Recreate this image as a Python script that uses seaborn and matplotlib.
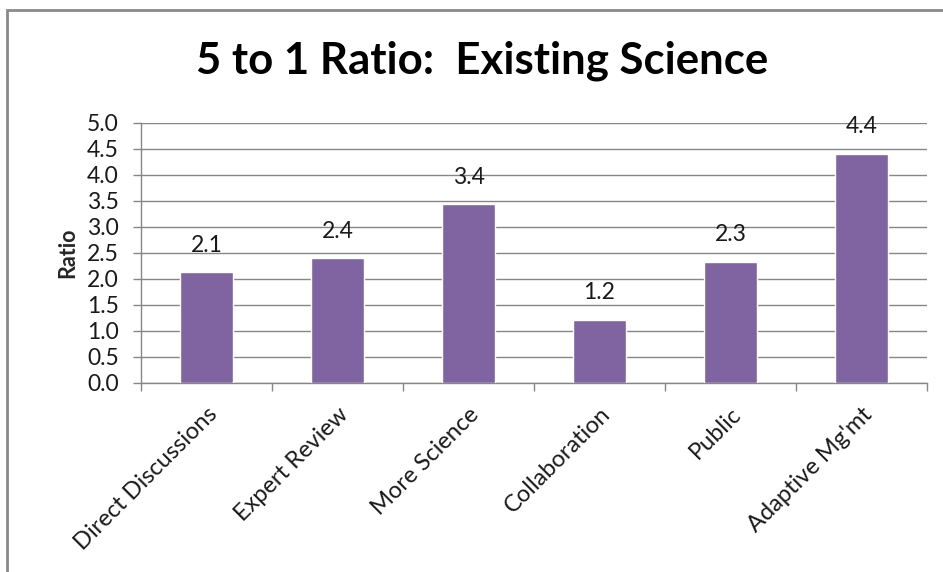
import matplotlib
matplotlib.use("Agg")
import matplotlib.pyplot as plt
import matplotlib.patches as mpatches
from matplotlib.ticker import FixedLocator, NullFormatter
import seaborn as sns
import pandas as pd

categories = ["Direct Discussions", "Expert Review", "More Science",
              "Collaboration", "Public", "Adaptive Mg'mt"]
ratios = [2.12, 2.39, 3.43, 1.21, 2.32, 4.40]
y_ticks = [0.0, 0.5, 1.0, 1.5, 2.0, 2.5, 3.0, 3.5, 4.0, 4.5, 5.0]

title_text = "5 to 1 Ratio:  Existing Science"
y_label = "Ratio"

bar_color = "#8064A2"
grid_color = "#868686"
text_color = "#1a1a1a"
font_family = ["Lato", "DejaVu Sans"]

sns.set_theme(style="white")
plt.rcParams["font.family"] = font_family

df = pd.DataFrame({"category": categories, "ratio": ratios})

fig = plt.figure(figsize=(9.43, 5.72), dpi=100)
ax = fig.add_axes([0.1495, 0.331, 0.8335, 0.4545])

sns.barplot(data=df, x="category", y="ratio", color=bar_color,
            saturation=1, width=0.4, ax=ax, zorder=3)

ax.set_ylim(0, 5.0)
ax.set_xlim(-0.5, len(categories) - 0.5)
ax.yaxis.set_major_locator(FixedLocator(y_ticks))
ax.set_yticklabels([f"{v:.1f}" for v in y_ticks], fontsize=16.5, color=text_color)
ax.yaxis.grid(True, color=grid_color, linewidth=1.0, zorder=0)
ax.xaxis.grid(False)

# category labels, rotated, with tick marks placed between categories
ax.set_xticks(range(len(categories)))
ax.set_xticklabels(categories, rotation=45, ha="right",
                   rotation_mode="anchor", fontsize=17, color=text_color)
ax.tick_params(axis="x", which="major", length=0, pad=15)
ax.xaxis.set_minor_locator(FixedLocator([i - 0.5 for i in range(len(categories) + 1)]))
ax.xaxis.set_minor_formatter(NullFormatter())
ax.tick_params(axis="x", which="minor", length=6, width=1, color=grid_color,
               direction="out", bottom=True)
ax.tick_params(axis="y", which="major", length=6, width=1, color=grid_color,
               direction="out", left=True, pad=10)

for side in ("top", "right"):
    ax.spines[side].set_visible(False)
for side in ("left", "bottom"):
    ax.spines[side].set_color(grid_color)
    ax.spines[side].set_linewidth(1.0)

ax.set_xlabel("")
ax.set_ylabel(y_label, fontsize=15.5, fontweight="bold", labelpad=6)

# value labels above each bar
for i, v in enumerate(ratios):
    ax.annotate(f"{v:.1f}", xy=(i, v), xytext=(0, 12),
                textcoords="offset points", ha="center", va="bottom",
                fontsize=16.5, color=text_color)

fig.text(0.511, 0.893, title_text, ha="center", va="center",
         fontsize=31.5, fontweight="bold", color="black")

# outer chart frame
frame = mpatches.Rectangle((7 / 943, -0.05), 1.2, 1 - 10 / 572 + 0.05,
                           transform=fig.transFigure, fill=False,
                           edgecolor="#8a8a8a", linewidth=2.0)
fig.patches.append(frame)

fig.savefig("out.png", dpi=100)
